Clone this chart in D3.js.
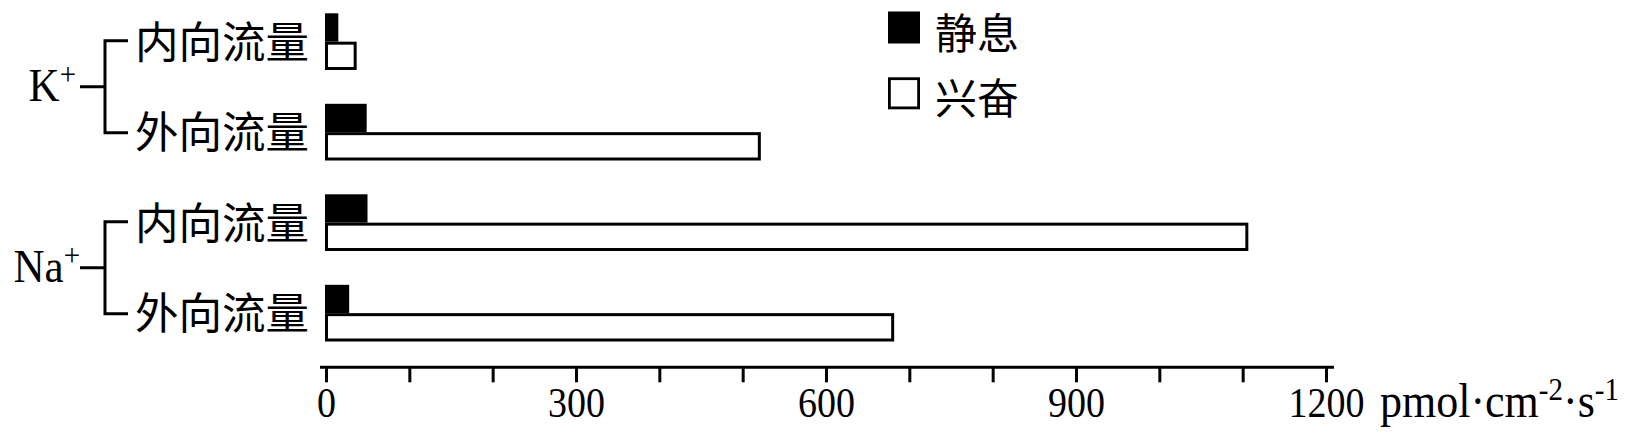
<!DOCTYPE html>
<html><head><meta charset="utf-8">
<script src="https://cdn.jsdelivr.net/npm/d3@7"></script>
<style>
html,body{margin:0;padding:0;background:#fff;}
svg{display:block;}
</style></head>
<body>
<svg id="chart" width="1628" height="440"></svg>
<script>
// ---- data ----
const ions = ["K", "Na"];
const directions = ["内向流量", "外向流量"];
const categories = ["K-内向流量", "K-外向流量", "Na-内向流量", "Na-外向流量"];
const seriesNames = ["静息", "兴奋"];
const restValues = [13, 47, 48, 26];
const exciteValues = [35, 520, 1105, 680];
const tickValues = [0, 100, 200, 300, 400, 500, 600, 700, 800, 900, 1000, 1100, 1200];
const tickLabels = [0, 300, 600, 900, 1200];
const unitLabel = ["pmol·cm", "-2", "·s", "-1"];

const svg = d3.select("#chart");
const serif = "'Liberation Serif','Times New Roman',serif";
const cjk = "'Noto Sans CJK SC','Noto Sans CJK JP',sans-serif";

const x = d3.scaleLinear().domain([0, 1200]).range([326, 1326]);
const y = d3.scaleBand().domain(categories).range([-3.6, 358.4]).paddingInner(0.3735).paddingOuter(0.18675);
const sub = d3.scaleBand().domain(seriesNames).range([0, y.bandwidth()]);
const sw = 3;

const rows = categories.map((c, i) => ({c, vals: [restValues[i], exciteValues[i]]}));

// bars
const g = svg.append("g");
rows.forEach(r => {
  r.vals.forEach((v, j) => {
    const s = seriesNames[j];
    g.append("rect")
      .attr("x", x(0) + 0.5)
      .attr("y", y(r.c) + sub(s) + sw / 2)
      .attr("width", Math.max(0, x(v) - x(0) - 0.5))
      .attr("height", sub.bandwidth() - sw)
      .attr("fill", j === 0 ? "#000" : "#fff")
      .attr("stroke", "#000")
      .attr("stroke-width", sw);
  });
});

// category labels
rows.forEach((r, i) => {
  svg.append("text")
    .attr("x", 309)
    .attr("y", y(r.c) + y.bandwidth() / 2 + 16)
    .attr("text-anchor", "end")
    .attr("font-family", cjk)
    .attr("font-size", 43.5)
    .attr("fill", "#000")
    .text(directions[i % 2]);
});

// brackets and ion labels
ions.forEach((ion, k) => {
  const c1 = categories[k * 2], c2 = categories[k * 2 + 1];
  const y1 = y(c1) + y.bandwidth() / 2 - 1;
  const y2 = y(c2) + y.bandwidth() / 2 + 0.6;
  const mid = (y1 + y2) / 2;
  const bx = 105;
  svg.append("path")
    .attr("d", `M128,${y1} H${bx} V${y2} H128 M${bx},${mid} H80`)
    .attr("fill", "none").attr("stroke", "#000").attr("stroke-width", sw);
  const t = svg.append("text")
    .attr("transform", `translate(${k === 0 ? 76 : 80},${mid + 14}) scale(1,1.08)`)
    .attr("text-anchor", "end")
    .attr("font-family", serif)
    .attr("font-size", 43)
    .attr("fill", "#000");
  t.append("tspan").text(ion);
  t.append("tspan").attr("font-size", 29).attr("dy", -15).text("+");
});

// x axis
const axisY = 367.3;
svg.append("line")
  .attr("x1", x.range()[0] - 6).attr("x2", x.range()[1] + 8)
  .attr("y1", axisY).attr("y2", axisY)
  .attr("stroke", "#000").attr("stroke-width", sw);
const axis = d3.axisBottom(x).tickValues(tickValues).tickSize(15).tickSizeOuter(0)
  .tickFormat(d => tickLabels.includes(d) ? String(d) : "");
const ax = svg.append("g").attr("transform", `translate(0,${axisY})`).call(axis);
ax.select(".domain").remove();
ax.selectAll(".tick line").attr("stroke", "#000").attr("stroke-width", sw);
ax.selectAll(".tick text")
  .attr("font-family", serif).attr("font-size", 38).attr("fill", "#000")
  .attr("y", 0).attr("dy", 0)
  .attr("transform", "translate(0,50) scale(1,1.1)");

// unit label
const ut = svg.append("text")
  .attr("transform", `translate(1380,${axisY + 50}) scale(1,1.08)`)
  .attr("font-family", serif).attr("font-size", 44).attr("fill", "#000");
ut.append("tspan").text(unitLabel[0]);
ut.append("tspan").attr("font-size", 29).attr("dy", -16).text(unitLabel[1]);
ut.append("tspan").attr("dy", 16).text(unitLabel[2]);
ut.append("tspan").attr("font-size", 29).attr("dy", -16).text(unitLabel[3]);

// legend
const legY = [27.5, 93.3];
seriesNames.forEach((s, j) => {
  svg.append("rect")
    .attr("x", 888 + (j === 0 ? 0 : 1.4)).attr("y", legY[j] - 16 + (j === 0 ? 0 : 1.4))
    .attr("width", j === 0 ? 32 : 29.2).attr("height", j === 0 ? 32 : 29.2)
    .attr("fill", j === 0 ? "#000" : "#fff")
    .attr("stroke", j === 0 ? "none" : "#000").attr("stroke-width", 2.8);
  svg.append("text")
    .attr("x", 935).attr("y", legY[j] + 21)
    .attr("font-family", cjk).attr("font-size", 42).attr("fill", "#000")
    .text(s);
});
</script>
</body></html>
